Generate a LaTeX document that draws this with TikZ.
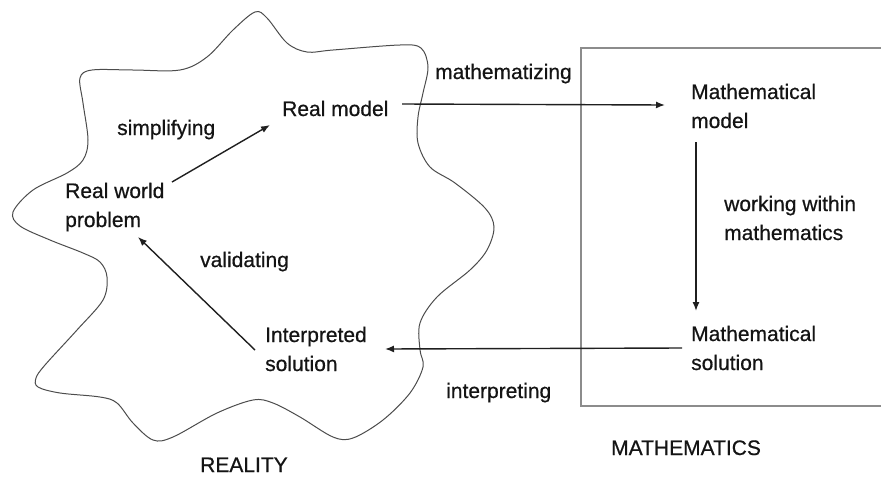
\documentclass[tikz,border=0pt]{standalone}
\usepackage{fontspec}
\setmainfont[FakeBold=0.6]{Liberation Sans}
\usetikzlibrary{arrows.meta}
\begin{document}
\begin{tikzpicture}[x=1pt,y=-1pt,
  lbl/.style={inner sep=0pt,anchor=base west,align=left,text=black!92,
    font=\fontsize{21}{29}\selectfont},
  arr/.style={draw=black!88,line width=1.4pt,-{Latex[length=9pt,width=7pt]}},
  blob/.style={draw=black!70,line width=1pt},
  frame/.style={draw=black!45,line width=1.4pt}]
\useasboundingbox (0,0) rectangle (881,477);
% reality blob
\draw[blob] plot[smooth cycle,tension=0.55] coordinates {
 (255,12) (267,18) (287,43) (307,52) (333,50) (400,45) (421,48) (428,67)
 (423,93) (418,117) (418,143) (430,167) (455,183) (485,208) (494,227)
 (487,250) (470,270) (437,297) (420,323) (420,350) (423,367) (410,393)
 (383,420) (353,438) (333,437) (300,417) (273,403) (253,400) (217,413)
 (173,437) (153,440) (133,423) (117,403) (100,397) (60,393) (38,387)
 (36,378) (45,365) (77,330) (103,300) (107,277) (100,262) (83,253)
 (50,240) (20,226) (13,212) (33,190) (67,173) (83,160) (88,140)
 (83,103) (80,78) (92,70) (133,70) (180,70) (207,57) (233,30)};
% mathematics frame
\draw[frame] (881,48) -- (581,48) -- (581,406) -- (881,406);
% nodes (multi-line nodes: base = last line)
\node[lbl] (rm) at (282,116) {Real model};
\node[lbl] (simp) at (117,135) {simplifying};
\node[lbl] (rw) at (65,227) {Real world\\problem};
\node[lbl] (val) at (200,267) {validating};
\node[lbl] (interp) at (265,371) {Interpreted\\solution};
\node[lbl] (reality) at (200,472) {REALITY};
\node[lbl] (mathz) at (435,79) {mathematizing};
\node[lbl] (mm) at (691,128) {Mathematical\\model};
\node[lbl] (work) at (724,240) {working within\\mathematics};
\node[lbl] (ms) at (691,370) {Mathematical\\solution};
\node[lbl] (interpg) at (446,398) {interpreting};
\node[lbl] (maths) at (611,455) {MATHEMATICS};
% connectors
\draw[arr] ([shift={(107,-45)}]rw.base west) -- ([shift={(-12,9)}]rm.base west);
\draw[arr] ([shift={(120,-12)}]rm.base west) -- ([shift={(-26,-23)}]mm.base west);
\draw[arr] ([shift={(5,14)}]mm.base west) -- ([shift={(5,-59)}]ms.base west);
\draw[arr] ([shift={(-9,-22)}]ms.base west) -- ([shift={(120,-22)}]interp.base west);
\draw[arr] ([shift={(-10,-21)}]interp.base west) -- ([shift={(73,10)}]rw.base west);
\end{tikzpicture}
\end{document}
